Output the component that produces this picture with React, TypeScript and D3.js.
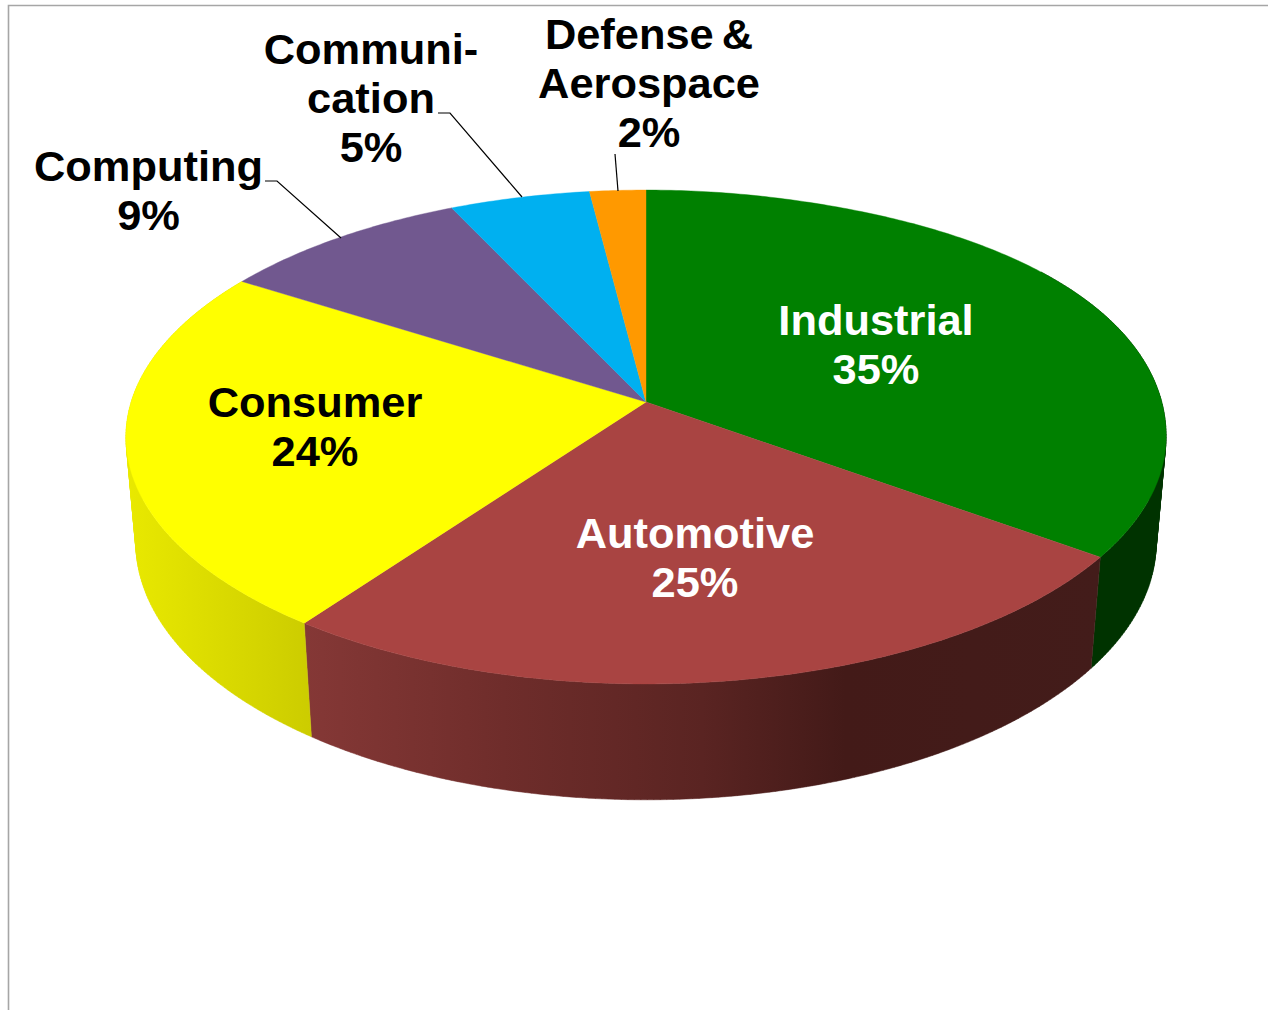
import React from "react";
import * as d3 from "d3";

// ---- data ----
const categories = ["Industrial", "Automotive", "Consumer", "Computing", "Communication", "Defense & Aerospace"];
const shares = [35, 25, 24, 9, 5, 2];
const labelLines = [
  ["Industrial"],
  ["Automotive"],
  ["Consumer"],
  ["Computing"],
  ["Communi-", "cation"],
  ["Defense &", "Aerospace"],
];

// ---- styles ----
const topColors = ["#008000", "#a94442", "#ffff00", "#71588f", "#00b0f0", "#ff9900"];
const textColors = ["#ffffff", "#ffffff", "#000000", "#000000", "#000000", "#000000"];
const FONT = "'Liberation Sans', Arial, sans-serif";
const FONT_SIZE = 43.4;
const LINE_H = 49;

// layout: centre x, first baseline y of each label
const labelAnchor: [number, number][] = [
  [876, 334.5],
  [695, 548.2],
  [315, 416.5],
  [148.5, 181],
  [371, 64.2],
  [649, 48.8],
];
// leader polylines for the outer labels
const leaders: Record<number, [number, number][]> = {
  3: [[265, 181], [277, 181], [341, 238]],
  4: [[438, 113], [450, 113], [522, 197]],
  5: [[615, 154], [618, 191]],
};

// wall shading across the screen (x to colour)
const wallStops: { id: number; from: number; to: number; stops: [number, string][] }[] = [
  { id: 0, from: 1090, to: 1170, stops: [[0, "#003300"], [1, "#003300"]] },
  {
    id: 1, from: 304, to: 1100,
    stops: [[0, "#853836"], [0.25, "#6f2d2b"], [0.5, "#5a2422"], [0.68, "#431a18"], [1, "#431c1a"]],
  },
  { id: 2, from: 126, to: 312, stops: [[0, "#e9e900"], [1, "#cccc00"]] },
];

// ---- projection of the tilted disc ----
const CX = 646, CY = 402;
const A = 514.8, B = 242, K = 0.1417, C = 107, M = 0.019;
const DEG = Math.PI / 180;
// the drawn rim bulges slightly in the upper right of the top face
const rimBulge = (theta: number) => {
  const a = 15 * DEG, b = 100 * DEG;
  if (theta <= a || theta >= b) return 1;
  return 1 + 0.014 * Math.sin((Math.PI * (theta - a)) / (b - a)) ** 2;
};
const project = (theta: number, z: number): [number, number] => {
  const r = z === 0 ? rimBulge(theta) : 1;
  const x = r * Math.sin(theta), y = -r * Math.cos(theta);
  const w = 1 - K * y + M * z;
  return [CX + (A * x) / w, CY + (B * y + C * z) / w];
};

const arcs = d3.pie<number>().sort(null).startAngle(0).endAngle(2 * Math.PI)(shares);
const line = d3.line();
const sample = (a: number, b: number) => {
  const n = Math.max(2, Math.ceil(Math.abs(b - a) * 90));
  return d3.range(n + 1).map((i) => a + ((b - a) * i) / n);
};
const topPath = (a: number, b: number) =>
  line([[CX, CY], ...sample(a, b).map((t) => project(t, 0))])! + "Z";
// the wall is the sweep of the edge between the two rims: one small hull per step, so the silhouette is filled too
const wallPath = (a: number, b: number) => {
  const ts = sample(a, b);
  return d3.pairs(ts)
    .map(([t0, t1]) => {
      const hull = d3.polygonHull([project(t0, 0), project(t1, 0), project(t1, 1), project(t0, 1)]);
      return line(hull!)! + "Z";
    })
    .join("");
};

// the walls only show on the front of the disc
const FRONT_A = 55 * DEG, FRONT_B = 305 * DEG;

export default function App() {
  return (
    <svg
      width={1268}
      height={1010}
      viewBox="0 0 1268 1010"
      style={{ position: "absolute", left: 0, top: 0, display: "block", background: "#fff" }}
    >
      <defs>
        {wallStops.map((g) => (
          <linearGradient key={g.id} id={`wall${g.id}`} gradientUnits="userSpaceOnUse" x1={g.from} x2={g.to} y1={0} y2={0}>
            {g.stops.map(([o, c]) => (
              <stop key={o} offset={o} stopColor={c} />
            ))}
          </linearGradient>
        ))}
      </defs>

      <path d="M8.5 1010V5.5H1268" fill="none" stroke="#a6a6a6" strokeWidth={1.6} />

      {wallStops.map((g) => {
        const arc = arcs[g.id];
        const a = Math.max(arc.startAngle, FRONT_A), b = Math.min(arc.endAngle, FRONT_B);
        return <path key={g.id} d={wallPath(a, b)} fill={`url(#wall${g.id})`} stroke={`url(#wall${g.id})`} strokeWidth={0.5} />;
      })}

      {arcs.map((arc, i) => (
        <path
          key={categories[i]}
          d={topPath(arc.startAngle, arc.endAngle)}
          fill={topColors[i]}
          stroke={topColors[i]}
          strokeWidth={0.4}
        />
      ))}

      {Object.entries(leaders).map(([k, pts]) => (
        <path key={k} d={line(pts)!} fill="none" stroke="#000" strokeWidth={1.2} />
      ))}

      {labelLines.map((lines, i) => {
        const [x, y0] = labelAnchor[i];
        return (
          <text
            key={categories[i]}
            textAnchor="middle"
            fontFamily={FONT}
            fontWeight={700}
            fontSize={FONT_SIZE}
            fill={textColors[i]}
            wordSpacing={-4}
          >
            {[...lines, `${shares[i]}%`].map((s, j) => (
              <tspan key={j} x={x} y={y0 + j * LINE_H}>
                {s}
              </tspan>
            ))}
          </text>
        );
      })}
    </svg>
  );
}
